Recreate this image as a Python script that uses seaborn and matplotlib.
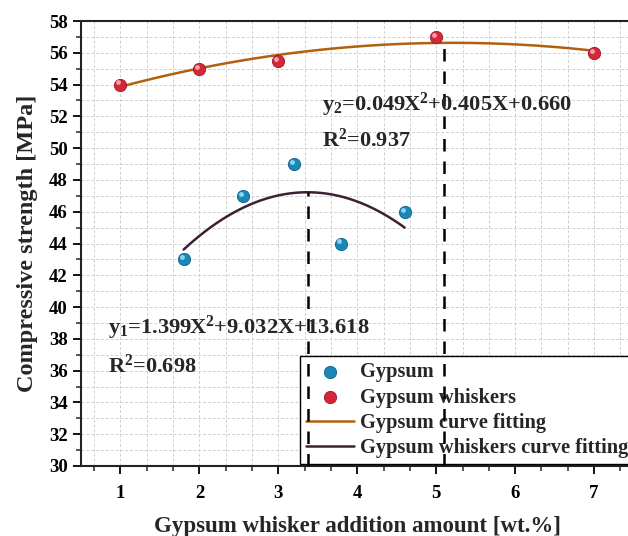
import numpy as np
import pandas as pd
import matplotlib
matplotlib.use("Agg")
import matplotlib.pyplot as plt
import matplotlib.transforms as mtransforms
from matplotlib.ticker import MultipleLocator
import seaborn as sns

# Measured compressive strength
gypsum_x = [1.8, 2.55, 3.2, 3.8, 4.6]
gypsum_y = [43, 47, 49, 44, 46]
whisker_x = [1, 2, 3, 5, 7]
whisker_y = [54, 55, 55.5, 57, 56]

# x positions of the marked maxima of the two fitted curves
peak_x = [3.38, 5.1]

eq_labels = [r"y$_\mathrm{2}$=0.049X$^\mathrm{2}$+0.405X+0.660", r"R$^\mathrm{2}$=0.937",
             r"y$_\mathrm{1}$=1.399X$^\mathrm{2}$+9.032X+13.618", r"R$^\mathrm{2}$=0.698"]

sns.set_theme(style="white")
plt.rcParams["font.family"] = ["Liberation Serif", "DejaVu Serif"]
plt.rcParams["font.weight"] = "bold"
plt.rcParams["mathtext.fontset"] = "custom"
plt.rcParams["mathtext.rm"] = "Liberation Serif:bold"
plt.rcParams["mathtext.it"] = "Liberation Serif:bold"
plt.rcParams["mathtext.bf"] = "Liberation Serif:bold"

fig = plt.figure(figsize=(6.28, 5.36), dpi=100)
ax = fig.add_axes([0.129, 0.1306, 0.8798, 0.8302])

blue = "#1b87b8"
red = "#d3283a"
brown = "#b0600f"
plum = "#3e2035"

# quadratic fits of both series
g_coef = np.polyfit(gypsum_x, gypsum_y, 2)
w_coef = np.polyfit(whisker_x, whisker_y, 2)
gx = np.linspace(min(gypsum_x), max(gypsum_x), 200)
wx = np.linspace(min(whisker_x), max(whisker_x), 200)
fit_g = pd.DataFrame({"x": gx, "y": np.polyval(g_coef, gx)})
fit_w = pd.DataFrame({"x": wx, "y": np.polyval(w_coef, wx)})

sns.lineplot(data=fit_w, x="x", y="y", color=brown, lw=1.8, ax=ax,
             label="Gypsum curve fitting", zorder=3)
sns.lineplot(data=fit_g, x="x", y="y", color=plum, lw=1.8, ax=ax,
             label="Gypsum whiskers curve fitting", zorder=3)

df_g = pd.DataFrame({"x": gypsum_x, "y": gypsum_y})
df_w = pd.DataFrame({"x": whisker_x, "y": whisker_y})
sns.scatterplot(data=df_g, x="x", y="y", color=blue, s=78, edgecolor="#0f5f86",
                linewidth=0.6, ax=ax, label="Gypsum", zorder=4)
sns.scatterplot(data=df_w, x="x", y="y", color=red, s=78, edgecolor="#9a1525",
                linewidth=0.6, ax=ax, label="Gypsum whiskers", zorder=4)

# small highlights for a glossy sphere look
hl = mtransforms.offset_copy(ax.transData, fig=fig, x=-1.5, y=1.5, units="points")
ax.scatter(gypsum_x, gypsum_y, s=12, color="#8fd3f0", transform=hl, zorder=5, lw=0)
ax.scatter(whisker_x, whisker_y, s=12, color="#f5a0a8", transform=hl, zorder=5, lw=0)

# dashed drop lines from the curve maxima
for px, coef in zip(peak_x, [g_coef, w_coef]):
    ax.vlines(px, 30, np.polyval(coef, px), colors="black", linestyles=(0, (5, 4)),
              lw=1.8, zorder=6)

ax.set_xlim(0.5, 7.5)
ax.set_ylim(30, 58)
ax.xaxis.set_major_locator(MultipleLocator(1))
ax.xaxis.set_minor_locator(MultipleLocator(1 / 3))
ax.yaxis.set_major_locator(MultipleLocator(2))
ax.yaxis.set_minor_locator(MultipleLocator(1))
ax.grid(which="both", color="#d0d0d0", linestyle=(0, (3, 2)), lw=0.7)
ax.set_axisbelow(True)
ax.tick_params(which="major", direction="out", length=6, width=1.3, labelsize=13.5,
               colors="black", bottom=True, left=True)
ax.tick_params(axis="x", which="major", pad=8)
ax.tick_params(which="minor", direction="out", length=3.5, width=1.1,
               bottom=True, left=True)
for lab in ax.get_xticklabels() + ax.get_yticklabels():
    lab.set_fontweight("bold")
for sp in ax.spines.values():
    sp.set_color("#222222")
    sp.set_linewidth(1.5)

ax.set_xlabel("Gypsum whisker addition amount [wt.%]", fontsize=16.5, fontweight="bold",
              labelpad=10)
ax.set_ylabel("Compressive strength [MPa]", fontsize=17.5, fontweight="bold", labelpad=8)

ax.text(3.55, 52.7, eq_labels[0], fontsize=16.2, va="center", ha="left", zorder=7)
ax.text(3.55, 50.5, eq_labels[1], fontsize=16, va="center", ha="left", zorder=7)
ax.text(0.84, 38.7, eq_labels[2], fontsize=16.2, va="center", ha="left", zorder=7)
ax.text(0.84, 36.3, eq_labels[3], fontsize=16, va="center", ha="left", zorder=7)

handles, labels = ax.get_legend_handles_labels()
order = [labels.index(l) for l in ["Gypsum", "Gypsum whiskers", "Gypsum curve fitting",
                                    "Gypsum whiskers curve fitting"]]
leg = ax.legend([handles[i] for i in order], [labels[i] for i in order],
                loc="upper left", bbox_to_anchor=(0.396, 0.247), borderaxespad=0,
                prop={"family": "Liberation Serif", "weight": "bold", "size": 14.7},
                frameon=True, fancybox=False, edgecolor="black", framealpha=1,
                handlelength=2.35, labelspacing=0.26, borderpad=0.3, handletextpad=0.3)
leg.get_frame().set_linewidth(1.0)
leg.set_zorder(5.5)

fig.savefig("out.png", dpi=100)
